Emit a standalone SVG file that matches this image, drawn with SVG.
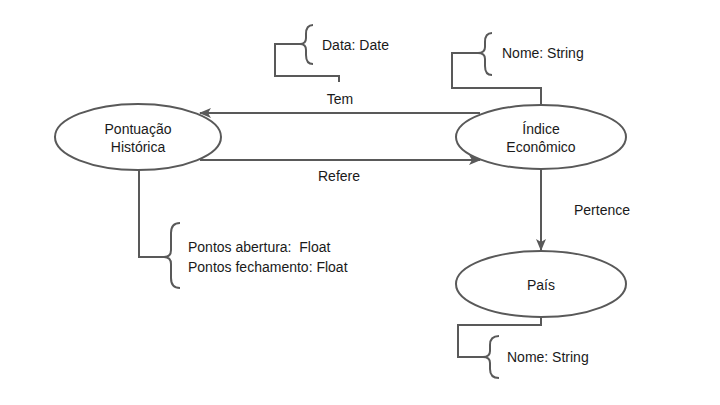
<svg xmlns="http://www.w3.org/2000/svg" width="720" height="405" viewBox="0 0 720 405">
<defs>
<style>
.n{fill:#fff;stroke:#595959;stroke-width:2}
.l{fill:none;stroke:#595959;stroke-width:2}
.t{font-family:"Liberation Sans",Arial,sans-serif;font-size:14px;fill:#1a1a1a}
.c{text-anchor:middle}
</style>
<marker id="ah" viewBox="0 0 12 10" markerWidth="12" markerHeight="10" refX="11" refY="5" orient="auto" markerUnits="userSpaceOnUse">
<path d="M0,0 L12,5 L0,10 L3,5 Z" fill="#595959"/>
</marker>
</defs>
<rect width="720" height="405" fill="#fff"/>
<g id="connectors">
<line class="l" x1="480" y1="113" x2="200" y2="113" marker-end="url(#ah)"/>
<line class="l" x1="200" y1="160" x2="480" y2="160" marker-end="url(#ah)"/>
<line class="l" x1="541" y1="169" x2="541" y2="250" marker-end="url(#ah)"/>
<text class="t c" x="340" y="104">Tem</text>
<text class="t c" x="339" y="181">Refere</text>
<text class="t c" x="602" y="215">Pertence</text>
</g>
<g id="attr-data">
<polyline class="l" points="339,82 339,76 275,76 275,44 300,44"/>
<path class="l" d="M313,25 Q306,25 306,34 L306,38 Q306,44 300,44 Q306,44 306,50 L306,55 Q306,64 313,64"/>
<text class="t" x="322" y="50">Data: Date</text>
</g>
<g id="attr-indice">
<polyline class="l" points="541,104 541,88 452,88 452,53 478,53"/>
<path class="l" d="M492,33 Q485,33 485,42 L485,47 Q485,53 478,53 Q485,53 485,59 L485,66 Q485,75 492,75"/>
<text class="t" x="502" y="58">Nome: String</text>
</g>
<g id="attr-pontuacao">
<polyline class="l" points="139,170 139,257 164,257"/>
<path class="l" d="M180,223 Q171,223 171,233 L171,250 Q171,257 164,257 Q171,257 171,264 L171,278 Q171,288 180,288"/>
<text class="t" x="188" y="252" xml:space="preserve">Pontos abertura:  Float</text>
<text class="t" x="188" y="272">Pontos fechamento: Float</text>
</g>
<g id="attr-pais">
<polyline class="l" points="541,317 541,325 458,325 458,357 483,357"/>
<path class="l" d="M499,336 Q490,336 490,345 L490,351 Q490,357 483,357 Q490,357 490,363 L490,369 Q490,378 499,378"/>
<text class="t" x="507" y="362">Nome: String</text>
</g>
<g id="pontuacao">
<ellipse class="n" cx="138" cy="137" rx="83" ry="33"/>
<text class="t c" x="138" y="134">Pontuação</text>
<text class="t c" x="138" y="152">Histórica</text>
</g>
<g id="indice">
<ellipse class="n" cx="541" cy="137" rx="85" ry="32"/>
<text class="t c" x="541" y="134">Índice</text>
<text class="t c" x="541" y="152">Econômico</text>
</g>
<g id="pais">
<ellipse class="n" cx="541" cy="284" rx="85" ry="33"/>
<text class="t c" x="541" y="290">País</text>
</g>
</svg>
